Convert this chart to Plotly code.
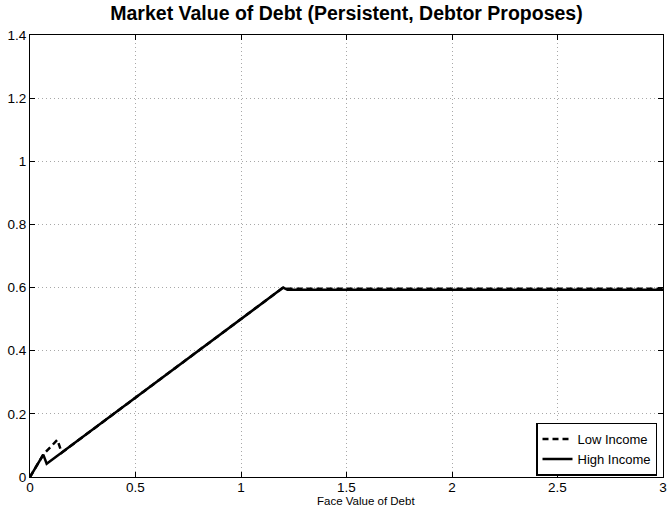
import plotly.graph_objects as go

# Data
low_x = [0.0, 0.063, 0.13, 0.15, 1.2, 1.22, 3.0]
low_y = [0.0, 0.071, 0.118, 0.077, 0.600, 0.596, 0.596]
high_x = [0.0, 0.063, 0.079, 1.2, 1.22, 3.0]
high_y = [0.0, 0.071, 0.042, 0.600, 0.593, 0.593]

x_ticks = [0, 0.5, 1, 1.5, 2, 2.5, 3]
x_labels = ["0", "0.5", "1", "1.5", "2", "2.5", "3"]
y_ticks = [0, 0.2, 0.4, 0.6, 0.8, 1.0, 1.2, 1.4]
y_labels = ["0", "0.2", "0.4", "0.6", "0.8", "1", "1.2", "1.4"]

font = "Liberation Sans, Arial, Helvetica, sans-serif"

W, H = 667, 517
L, R, T, B = 30, 4, 35, 40
PW, PH = W - L - R, H - T - B

fig = go.Figure()
fig.add_trace(go.Scatter(x=low_x, y=low_y, mode="lines", name="Low Income",
                         line=dict(color="black", width=2.5, dash="6px,4px")))
fig.add_trace(go.Scatter(x=high_x, y=high_y, mode="lines", name="High Income",
                         line=dict(color="black", width=2.5)))

axis_common = dict(showline=True, linecolor="black", linewidth=1, mirror="ticks",
                   ticks="inside", ticklen=5, tickcolor="black",
                   showgrid=True, gridcolor="#a8a8a8", griddash="1px,3px", gridwidth=1,
                   zeroline=False, automargin=False, ticklabeloverflow="allow",
                   tickfont=dict(family=font, size=13.5, color="black"))

fig.update_xaxes(range=[0, 3], tickvals=x_ticks, ticktext=x_labels,
                 ticklabelstandoff=-2, **axis_common)
fig.update_yaxes(range=[0, 1.4], tickvals=y_ticks, ticktext=y_labels, **axis_common)

fig.add_annotation(text="Face Value of Debt", xref="paper", yref="paper",
                   x=(365.5 - L) / PW, y=-(501 - (H - B)) / PH,
                   xanchor="center", yanchor="middle", showarrow=False,
                   font=dict(family=font, size=11.5, color="black"))

fig.update_layout(
    width=W, height=H,
    margin=dict(l=L, r=R, t=T, b=B, autoexpand=False),
    paper_bgcolor="white", plot_bgcolor="white",
    title=dict(text="<b>Market Value of Debt (Persistent, Debtor Proposes)</b>",
               x=(L + W - R) / 2 / W, xanchor="center", y=1 - 13 / H, yanchor="middle",
               font=dict(family=font, size=19.5, color="black")),
    legend=dict(x=(657 - L) / PW, y=0.003, xanchor="right", yanchor="bottom",
                bgcolor="white", bordercolor="black", borderwidth=1.5,
                font=dict(family=font, size=13, color="black"),
                itemwidth=30, tracegroupgap=0),
    showlegend=True,
)

fig.write_html("out.html", config={"displayModeBar": False},
               post_script="document.body.style.margin='0';document.body.style.overflow='hidden';")
